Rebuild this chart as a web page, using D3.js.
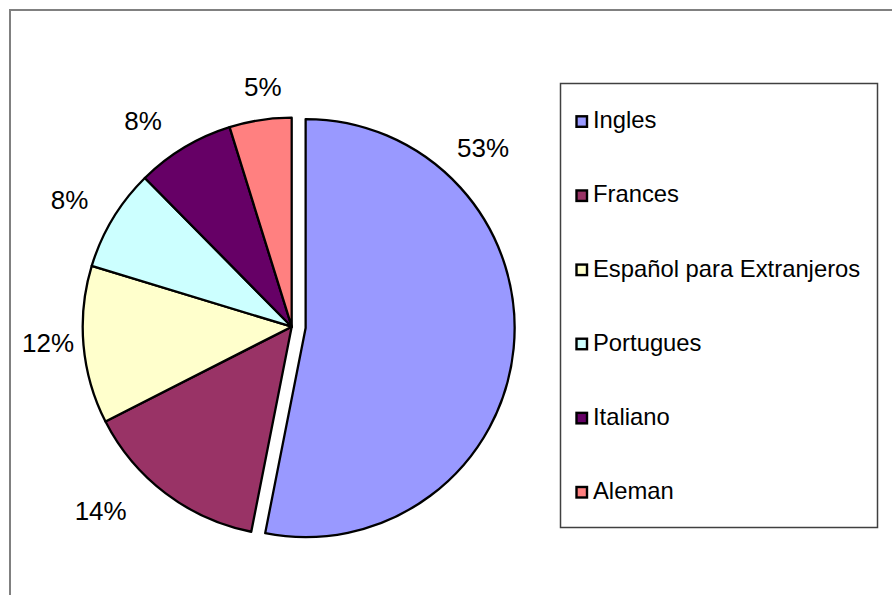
<!DOCTYPE html>
<html><head><meta charset="utf-8">
<script src="https://cdn.jsdelivr.net/npm/d3@7"></script>
<style>html,body{margin:0;padding:0;background:#fff;}svg{display:block;font-family:"Liberation Sans",Arial,sans-serif;}</style>
</head><body>
<svg id="chart" width="892" height="595"></svg>
<script>
// ---- data ----
const categories = ["Ingles", "Frances", "Español para Extranjeros", "Portugues", "Italiano", "Aleman"];
const values = [53.1, 14.4, 12.2, 7.9, 7.6, 4.8];
const colors = ["#9999FF", "#993366", "#FFFFCC", "#CCFFFF", "#660066", "#FF8080"];
const explode = [14, 0, 0, 0, 0, 0];

// ---- layout (label placement around the pie) ----
const labelNudgeDeg = [-51.0, 9.0, 1.2, -1.4, -4.9, 1.8];
const labelDist = [252.8, 265.2, 244.2, 255.8, 253.8, 241.9];

const svg = d3.select("#chart");
const cx = 291.7, cy = 326.7, R = 209;

// chart frame
svg.append("rect").attr("x", 10).attr("y", 10).attr("width", 1000).attr("height", 1000)
  .attr("fill", "none").attr("stroke", "#808080").attr("stroke-width", 2);

const total = d3.sum(values);
const pie = d3.pie().sort(null).value(d => d)(values);
const arc = d3.arc().innerRadius(0).outerRadius(R);

const g = svg.append("g").attr("transform", `translate(${cx},${cy})`);

g.selectAll("path.slice").data(pie).join("path")
  .attr("class", "slice")
  .attr("d", arc)
  .attr("transform", (d, i) => {
    const a = (d.startAngle + d.endAngle) / 2;
    return `translate(${explode[i] * Math.sin(a)},${-explode[i] * Math.cos(a)})`;
  })
  .attr("fill", (d, i) => colors[i])
  .attr("stroke", "#000").attr("stroke-width", 2.3).attr("stroke-linejoin", "round");

// percentage labels
function labelPos(d, i) {
  const mid = (d.startAngle + d.endAngle) / 2;
  const a = mid + labelNudgeDeg[i] * Math.PI / 180;
  return [explode[i] * Math.sin(mid) + labelDist[i] * Math.sin(a),
          -explode[i] * Math.cos(mid) - labelDist[i] * Math.cos(a)];
}
g.selectAll("text.pct").data(pie).join("text")
  .attr("class", "pct")
  .attr("x", (d, i) => labelPos(d, i)[0])
  .attr("y", (d, i) => labelPos(d, i)[1])
  .attr("dy", "0.36em")
  .attr("text-anchor", "middle")
  .attr("font-size", 26)
  .attr("fill", "#000")
  .text(d => Math.round(d.value / total * 100) + "%");

// legend
const lg = svg.append("g");
lg.append("rect").attr("x", 560.5).attr("y", 83.5).attr("width", 317).attr("height", 444)
  .attr("fill", "#fff").attr("stroke", "#404040").attr("stroke-width", 1.5);

const ly = d3.scalePoint().domain(categories).range([128.3, 499]);
const items = lg.selectAll("g.item").data(categories).join("g").attr("class", "item");
items.append("rect")
  .attr("x", 576.5).attr("y", d => ly(d) - 12)
  .attr("width", 10.5).attr("height", 10.5)
  .attr("fill", (d, i) => colors[i])
  .attr("stroke", "#000").attr("stroke-width", 2.4);
items.append("text")
  .attr("x", 593).attr("y", d => ly(d))
  .attr("font-size", 23.8).attr("fill", "#000")
  .text(d => d);
</script>
</body></html>
